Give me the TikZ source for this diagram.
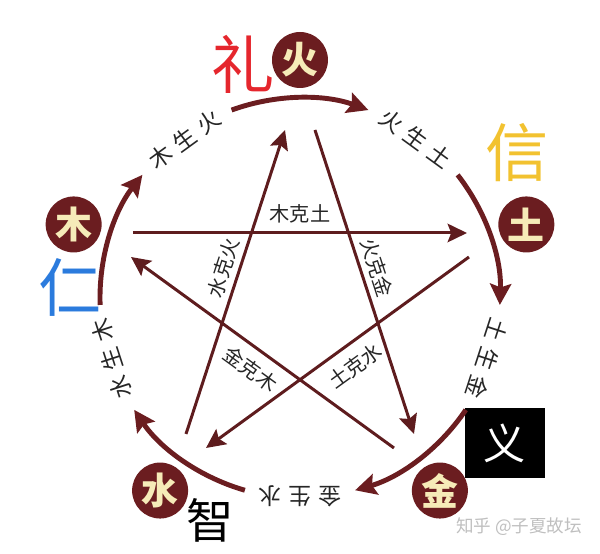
\documentclass[tikz,border=0pt]{standalone}
\usepackage{fontspec}
\newfontfamily\cjk{Noto Sans CJK SC}
\usetikzlibrary{arrows.meta}
\definecolor{wxred}{HTML}{6B1D20}
\definecolor{wxline}{HTML}{5E1C1E}
\definecolor{wxtext}{HTML}{F6EBB8}
\definecolor{lired}{HTML}{E5262D}
\definecolor{xinyellow}{HTML}{F2C230}
\definecolor{renblue}{HTML}{2B7BDD}

\begin{document}
\begin{tikzpicture}[x=0.02cm,y=0.02cm,
    element/.style={circle,fill=wxred,text=wxtext,minimum size=1.12cm,inner sep=0pt,
      font=\cjk\bfseries\fontsize{21}{21}\selectfont},
    sheng/.style={wxred,line width=2.8pt,-{Stealth[length=12pt,width=12pt,inset=2pt]}},
    ke/.style={wxline,line width=1.7pt,-{Stealth[length=11pt,width=10.5pt,inset=2pt]}},
    shenglabel/.style={text=black!85,inner sep=0pt,font=\cjk\fontsize{13}{13}\selectfont},
    kelabel/.style={text=black!85,inner sep=0pt,font=\cjk\fontsize{11.5}{12}\selectfont},
    virtue/.style={inner sep=0pt,font=\cjk\fontsize{36}{36}\selectfont}]
  \useasboundingbox (-300,-256) rectangle (300,298);

  % the five elements
  \draw
    (90:238) node[element] (huo) {火}
    (18:238) node[element] (tu) {土}
    (-54:238) node[element] (jin) {金}
    (-126:238) node[element] (shui) {水}
    (162:238) node[element] (mu) {木};

  % virtues
  \node[virtue,text=lired] (li) at (-57,234) {礼};
  \node[virtue,text=xinyellow] (xin) at (217,145) {信};
  \node[virtue,text=renblue] (ren) at (-230,11) {仁};
  \node[virtue,font=\cjk\fontsize{27}{27}\selectfont] (zhi) at (-90,-222) {智};
  \node[fill=black,text=white,minimum width=1.6cm,minimum height=1.42cm,inner sep=0pt,
    font=\cjk\fontsize{24}{24}\selectfont] (yi) at (205,-145) {义};

  % generating cycle
  \coordinate (mu-s) at (182:200);
  \coordinate (huo-s) at (110:200);
  \coordinate (tu-s) at (38:200);
  \coordinate (jin-s) at (-34:200);
  \coordinate (shui-s) at (-106:200);
  \draw[sheng] (mu-s) arc[start angle=182,end angle=142,radius=200];
  \draw[sheng] (huo-s) arc[start angle=110,end angle=70,radius=200];
  \draw[sheng] (tu-s) arc[start angle=38,end angle=-2,radius=200];
  \draw[sheng] (jin-s) arc[start angle=-34,end angle=-74,radius=200];
  \draw[sheng] (shui-s) arc[start angle=-106,end angle=-146,radius=200];
  \node[shenglabel,rotate=36] (musheng) at (126:196) {木\hspace{4pt}生\hspace{4pt}火};
  \node[shenglabel,rotate=-36] (huosheng) at (54:197) {火\hspace{4pt}生\hspace{4pt}土};
  \node[shenglabel,rotate=-108] (tusheng) at (-18:197) {土\hspace{4pt}生\hspace{4pt}金};
  \node[shenglabel,rotate=180] (jinsheng) at (-90:198) {金\hspace{4pt}生\hspace{4pt}水};
  \node[shenglabel,rotate=108] (shuisheng) at (-162:198) {水\hspace{4pt}生\hspace{4pt}木};

  % overcoming star
  \coordinate (huo-a) at (15,168);
  \coordinate (huo-b) at (-15,168);
  \coordinate (tu-a) at (169,41);
  \coordinate (tu-b) at (167,65);
  \coordinate (jin-a) at (94,-150);
  \coordinate (jin-b) at (114,-136);
  \coordinate (shui-a) at (-114,-136);
  \coordinate (shui-b) at (-94,-150);
  \coordinate (mu-a) at (-167,65);
  \coordinate (mu-b) at (-169,41);
  \begin{scope}[every node/.style={kelabel,sloped}]
    \draw[ke] (mu-a) -- node[midway,above=4.5pt] (muke) {木克土} (tu-b);
    \draw[ke] (huo-a) -- node[pos=0.47,above=3pt] (huoke) {火克金} (jin-b);
    \draw[ke] (tu-a) -- node[pos=0.48,below=6pt] (tuke) {土克水} (shui-b);
    \draw[ke] (jin-a) -- node[pos=0.5,below=5.5pt] (jinke) {金克木} (mu-b);
    \draw[ke] (shui-a) -- node[pos=0.53,above=3pt] (shuike) {水克火} (huo-b);
  \end{scope}

  \node[text=black!25,font=\cjk\fontsize{10}{10}\selectfont] (mark) at (219,-229) {知乎 @子夏故坛};
\end{tikzpicture}
\end{document}
